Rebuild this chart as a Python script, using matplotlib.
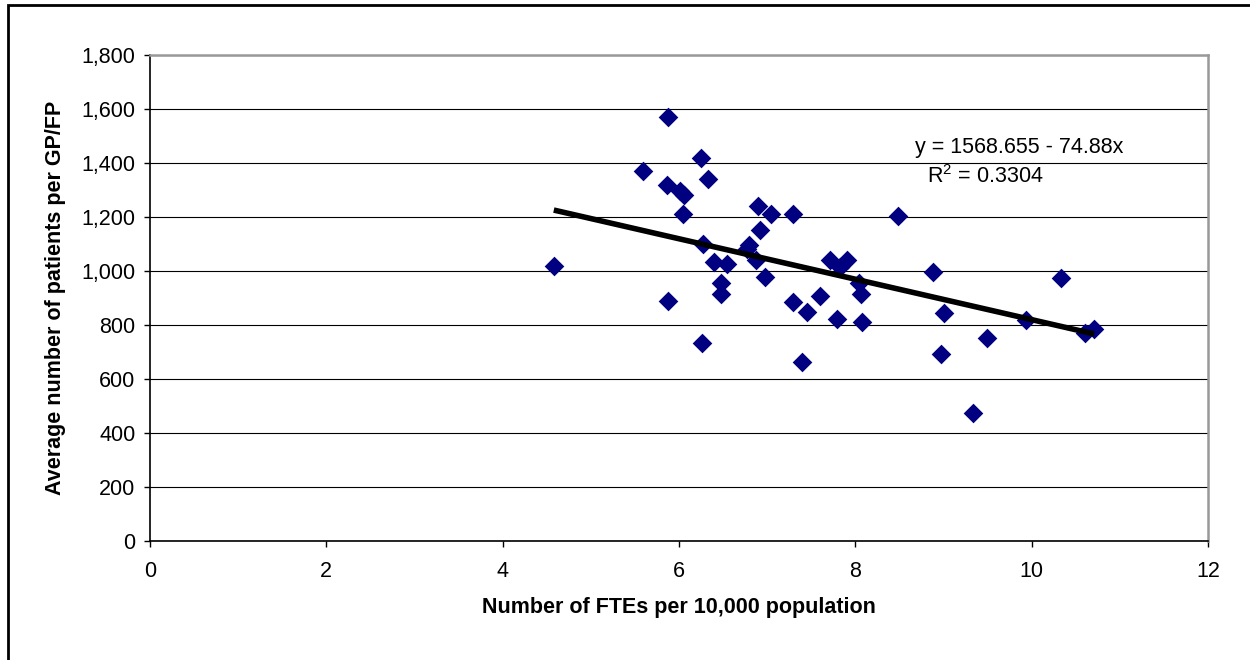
import numpy as np
import matplotlib
matplotlib.use('Agg')
import matplotlib.pyplot as plt
from matplotlib.ticker import FuncFormatter
from matplotlib.patches import Rectangle

# FTEs per 10,000 population vs average patients per GP/FP
ftes = [4.58, 5.59, 5.87, 5.86, 5.88, 6.01, 6.06, 6.04, 6.25, 6.33,
        6.27, 6.26, 6.40, 6.54, 6.48, 6.48, 6.79, 6.77, 6.87, 6.90,
        6.92, 6.98, 7.04, 7.29, 7.29, 7.39, 7.45, 7.60, 7.71, 7.79,
        7.83, 7.90, 8.04, 8.06, 8.08, 8.48, 8.88, 8.97, 9.01, 9.33,
        9.49, 9.94, 10.33, 10.60, 10.71]
patients = [1018, 1371, 1569, 1317, 890, 1295, 1281, 1212, 1420, 1341,
            1101, 733, 1035, 1027, 956, 913, 1096, 1080, 1041, 1242,
            1152, 979, 1212, 1210, 884, 664, 848, 908, 1039, 821,
            1016, 1041, 957, 914, 811, 1205, 995, 693, 846, 475,
            751, 820, 975, 772, 785]

intercept = 1568.655
slope = -74.88
eq_text = 'y = 1568.655 - 74.88x'
r2_text = 'R$^2$ = 0.3304'

plt.rcParams['font.family'] = ['Liberation Sans', 'DejaVu Sans']
plt.rcParams['mathtext.fontset'] = 'custom'
plt.rcParams['mathtext.rm'] = 'Liberation Sans'

fs = 15.5

fig = plt.figure(figsize=(12.5, 6.6), dpi=100, facecolor='w')
ax = fig.add_axes([150/1250, 1 - 541/660, (1208 - 150)/1250, (541 - 55)/660])

ax.set_xlim(0, 12)
ax.set_ylim(0, 1800)
ax.set_xticks(range(0, 13, 2))
ax.set_yticks(range(0, 1801, 200))
ax.yaxis.set_major_formatter(FuncFormatter(lambda v, p: '{:,.0f}'.format(v)))
ax.grid(axis='y', color='black', linewidth=0.8)
ax.set_axisbelow(True)

ax.scatter(ftes, patients, marker='D', s=100, color='#000080', zorder=3, linewidths=0)

# trendline over the data range
xs = np.array([min(ftes), max(ftes)])
ax.plot(xs, intercept + slope * xs, color='black', linewidth=4, zorder=4,
        solid_capstyle='butt')

fig.text(915/1250, 1 - 153/660, eq_text, ha='left', va='baseline', fontsize=fs)
fig.text(927/1250, 1 - 183/660, r2_text, ha='left', va='baseline', fontsize=fs)

for s in ['left', 'bottom']:
    ax.spines[s].set_color('black')
    ax.spines[s].set_linewidth(1.2)
for s in ['top', 'right']:
    ax.spines[s].set_color('#999999')
    ax.spines[s].set_linewidth(1.8)

ax.tick_params(direction='out', length=4.5, width=1, labelsize=fs)
ax.tick_params(axis='x', pad=10)
ax.tick_params(axis='y', pad=6)

ax.set_xlabel('Number of FTEs per 10,000 population', fontsize=fs,
              fontweight='bold', labelpad=11)
ax.set_ylabel('Average number of patients per GP/FP', fontsize=fs,
              fontweight='bold', labelpad=11)

fig.patches.append(Rectangle((8/1250, -0.05), 1.2, 1 - 5/660 + 0.05,
                             transform=fig.transFigure, fill=False,
                             edgecolor='black', linewidth=2))

fig.savefig('out.png', dpi=100, facecolor='w')
plt.close(fig)
